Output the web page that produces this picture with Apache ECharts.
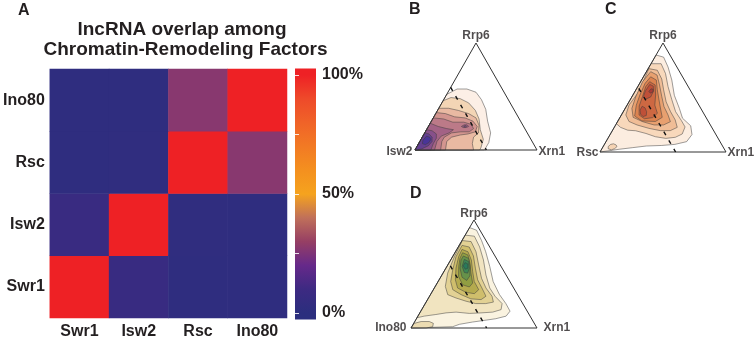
<!DOCTYPE html>
<html><head><meta charset="utf-8">
<script src="https://cdn.jsdelivr.net/npm/echarts@6/dist/echarts.min.js"></script>
<style>html,body{margin:0;padding:0;background:#fff}#c{width:754px;height:340px}</style>
</head><body><div id="c"></div>
<script>
// ---------- Panel A data (percent overlap) ----------
const factors = ['Swr1', 'Isw2', 'Rsc', 'Ino80'];
const overlapSwr1 = [100, 7, 2, 2];
const overlapIsw2 = [8, 100, 3, 2];
const overlapRsc = [2, 3, 100, 27];
const overlapIno80 = [2, 2, 27, 100];
const colorTicks = [0, 25, 50, 75, 100];
const colorLabels = [0, 50, 100];
const barLow = -2.7, barHigh = 102.7;

// ---------- Ternary panels: vertex names ----------
const vertexB = ['Rrp6', 'Isw2', 'Xrn1'];
const vertexC = ['Rrp6', 'Rsc', 'Xrn1'];
const vertexD = ['Rrp6', 'Ino80', 'Xrn1'];
// compositions [Rrp6 %, Xrn1 %] (factor % = remainder)
const apexComp = [100, 0], leftComp = [0, 0], rightComp = [0, 100];

// density contours, outer -> inner, points as [Rrp6 %, Xrn1 %]
const contoursB = [
  [[52,0],[57,6],[57,14],[54,23],[47,31],[38,39],[27,46],[16,54],[7,57],[0,57],[0,0]],
  [[46,0],[49,5],[48,13],[44,22],[37,31],[29,38],[19,44],[10,51],[2,53],[0,53],[0,0]],
  [[39,0],[39,8],[37,17],[34,27],[30,35],[23,41],[16,44],[12,42],[6,44],[0,48],[0,0]],
  [[35,0],[34,8],[31,17],[30,26],[27,34],[22,40],[17,41],[15,36],[14,30],[12,24],[8,22],[0,25],[0,0]],
  [[30,0],[29,9],[26,18],[26,27],[24,34],[20,38],[17,36],[17,29],[16,22],[12,18],[8,18],[0,21],[0,0]],
  [[25,0],[22,8],[20,16],[19,22],[16,20],[13,15],[8,14],[0,16],[0,0]],
  [[19,0],[18,5],[15,10],[11,12],[6,12],[0,13],[0,0]],
  [[16,0],[15,4],[12,8],[8,10],[4,9],[1,5],[0,1],[0,0]],
  [[13,3],[12,6],[10,8],[7,8],[5,6],[6,3],[9,2]],
  [[22,27],[23.5,28.5],[23.5,31],[22,33],[21,31.5],[21,29]],
  [[22.5,29],[22.8,30.3],[22,31.2],[21.3,30.5],[21.5,29.3]]
];
const contoursC = [
  [[89,0],[87,7],[78,15],[66,24],[52,33],[40,43],[31,50],[24,60],[16,65],[9.5,64],[7,56],[6,46],[5.5,34],[4,24],[2.5,14],[0,0]],
  [[5,4],[7,5],[7.5,7],[6.5,9.5],[5,11],[3,10],[2,8],[3,5]],
  [[81,0],[81,8],[72,16],[60,24],[48,33],[37,41.5],[29,50],[23,56],[16.5,57],[13.5,53],[12.5,46],[14,37],[17,28],[19.5,18.5],[20,12],[22.6,5],[26,0]],
  [[76.5,0.5],[75,8],[67,15.5],[57,22],[46,29.5],[37,37.5],[29.4,45],[22.6,50],[19.6,46],[19.6,38],[21.7,28],[24.8,17],[28,9],[34,3.5],[43,1.5],[54,3],[69,1.5]],
  [[73.7,3.4],[70.6,10],[61.5,16.5],[51,23.5],[41.6,30],[34,37],[27.8,42],[24.8,38],[24.8,30.5],[27.8,20],[31.8,10.4],[40,5.3],[50.8,3],[64.5,1.5]],
  [[69,5.7],[66,11.7],[57,17],[47.7,23],[38.5,29],[31.8,33.5],[28,30],[28.5,19],[33,11],[43,7.3],[52.3,5.5],[63,4.3]],
  [[64.5,7.2],[61.5,13],[52.3,18],[43,22],[35.5,27.8],[31.5,26],[30.5,20],[34,14],[42.2,10],[50.8,8.3],[60,6.3]],
  [[62,8.5],[60.5,12],[56,14.5],[50.5,15],[48.5,12],[51,9],[56,8]],
  [[42,12.5],[40.5,15.5],[37,18.5],[33.5,20],[32.5,18],[34.5,15],[38.5,12.5]],
  [[58,11.5],[57.5,13.5],[55,14.5],[54,13],[55.5,11]]
];
const contoursD = [
  [[93,0],[90.5,6.8],[81,15.5],[70.6,24],[57,34],[43,43.7],[31,54.7],[22.6,64],[15.6,70.8],[11,70],[8.6,63],[7.3,56],[5.5,46],[3.4,36.7],[1.2,32.5],[0,0]],
  [[0,0],[4.3,0.5],[6,5],[6,11.5],[4.3,15.6],[1.2,16.6],[0,12]],
  [[86,0],[85,7.8],[75,17],[63,26],[49,35],[37,44],[29.4,52],[22.6,61],[17,63],[14.7,57.5],[14,48.6],[13.5,39.6],[14.7,28.4],[14,20.8],[12.5,13.5],[11,5],[9.5,0]],
  [[81,0.3],[80,7.7],[70.6,16.3],[58.4,24.5],[46,33],[37,41],[29.4,49.6],[24,53.4],[22.6,48],[22.6,40],[24.8,31.3],[27.8,21.8],[30.9,13.7],[38.5,8],[50.8,3.7],[66,1.4]],
  [[76.5,2.3],[75,8.7],[66.7,16.2],[55.4,23.4],[44.6,30.6],[37,37.8],[29.4,44.8],[26.3,42.5],[27,34],[30.9,24.3],[35.5,15.4],[43,10],[53.8,6.2],[66,2.7]],
  [[72.8,4.1],[70.6,9.9],[63,16.4],[52.3,22.8],[43,28.7],[35.5,36],[31.8,34.4],[33,27.2],[37,18.5],[44.6,12.9],[55.4,8],[66,4.8]],
  [[69.7,6.1],[67.6,11.4],[60,16.8],[50.8,22.2],[41.6,28.1],[38,27.3],[40,21],[47.7,13.9],[57,9.4],[64.5,6.6]],
  [[66.7,8.2],[64.5,13.5],[57,18.4],[48.3,22.6],[44,22.2],[47,17],[55.4,11.2],[63,8.2]],
  [[63.6,10.5],[61.5,15],[55.4,18.6],[50.8,19.6],[51.4,16.6],[57,12.1]],
  [[60.6,12.6],[59.3,15.5],[55.4,17.5],[54.4,15.9],[57.5,12.7]]
];
// dashed reference line (constant factor share), [Rrp6 %, Xrn1 %] end points
const dashB = [[58.5, 0], [0, 58.5]];
const dashC = [[58.4, 1.6], [0, 60]];
const dashD = [[57.5, 2.5], [0, 60]];

// ---------- styles ----------
const scaleColors = ['#2b2e7e','#3d2a82','#66298a','#963f64','#c0705a','#f5a31e','#f4901f','#f27a24','#f06328','#ee4a2a','#ee2125'];
const fillsB = ['#fcefe6','#f3d5b5','#e9b9a2','#d3958f','#bc7a88','#a36285','#87508a','#643f90','#4a3598','#a36285','#87508a'];
const fillsC = ['#fcede0','#f6d4b4','#f8d8bb','#f0bd96','#e8a06f','#dc8350','#cd6842','#bf5038','#bf5038','#a83b36'];
const fillsD = ['#faf3e0','#ecdcb2','#f1e4c0','#e2d194','#cfbe6c','#b4aa4e','#909e42','#66924a','#3d8654','#2a7a5a'];
const FONT = '"Liberation Sans", Arial, Helvetica, sans-serif';
const INK = '#231f20';

// ---------- build ----------
const rows = [overlapSwr1, overlapIsw2, overlapRsc, overlapIno80];
const heatData = [];
rows.forEach((row, j) => row.forEach((v, i) => heatData.push([i, j, v])));

function toXY(c) {
  let t = Math.max(0, c[0]), r = Math.max(0, c[1]);
  if (t + r > 100) { const s = 100 / (t + r); t *= s; r *= s; }
  return [r + t / 2, t];
}

const stops = [{offset: 0, color: scaleColors[0]}];
scaleColors.forEach((col, i) => {
  const v = i * 100 / (scaleColors.length - 1);
  stops.push({offset: (v - barLow) / (barHigh - barLow), color: col});
});
stops.push({offset: 1, color: scaleColors[scaleColors.length - 1]});

const ternGrids = [
  {left: 415, top: 43, width: 122, height: 107},
  {left: 600, top: 43, width: 126, height: 109},
  {left: 411, top: 220, width: 126, height: 108}
];
const panels = [
  {polys: contoursB, fills: fillsB, dash: dashB, names: vertexB,
   lab: [{position: 'top', distance: 1}, {position: 'left', distance: 2, offset: [0, 1.5]}, {position: 'right', distance: 1, offset: [0, 1.5]}]},
  {polys: contoursC, fills: fillsC, dash: dashC, names: vertexC,
   lab: [{position: 'top', distance: 1}, {position: 'left', distance: 1, offset: [0, 0.5]}, {position: 'right', distance: 1, offset: [0, 0.5]}]},
  {polys: contoursD, fills: fillsD, dash: dashD, names: vertexD,
   lab: [{position: 'top', distance: 0}, {position: 'left', distance: 4, offset: [0, 0]}, {position: 'right', distance: 6, offset: [0, 0]}]}
];

const grid = [
  {left: 49, top: 69, width: 238, height: 250},
  {left: 295, top: 75, width: 21, height: 238}
].concat(ternGrids);

const xAxis = [
  {type: 'category', gridIndex: 0, data: factors, axisLine: {show: false}, axisTick: {show: false},
   axisLabel: {margin: 6, fontSize: 16, fontWeight: 'bold', fontFamily: FONT, color: INK}},
  {type: 'value', gridIndex: 1, min: 0, max: 1, show: false}
];
const yAxis = [
  {type: 'category', gridIndex: 0, data: factors, axisLine: {show: false}, axisTick: {show: false},
   axisLabel: {margin: 5, fontSize: 16, fontWeight: 'bold', fontFamily: FONT, color: INK, padding: [6, 0, 0, 0]}},
  {type: 'value', gridIndex: 1, position: 'right', min: 0, max: 100, interval: 25, z: 10,
   axisLine: {show: false}, splitLine: {show: false},
   axisTick: {show: true, inside: true, length: 4, lineStyle: {color: 'rgba(255,255,255,0.85)', width: 1}},
   axisLabel: {margin: 6, fontSize: 16, fontWeight: 'bold', fontFamily: FONT, color: INK,
     formatter: v => colorLabels.indexOf(v) >= 0 ? v + '%' : ''}},
  {type: 'value', gridIndex: 1, position: 'left', min: 0, max: 100, interval: 25, z: 10,
   axisLine: {show: false}, splitLine: {show: false}, axisLabel: {show: false},
   axisTick: {show: true, inside: true, length: 4, lineStyle: {color: 'rgba(255,255,255,0.85)', width: 1}}}
];
ternGrids.forEach((g, k) => {
  xAxis.push({type: 'value', gridIndex: 2 + k, min: 0, max: 100, show: false});
  yAxis.push({type: 'value', gridIndex: 2 + k, min: 0, max: 100, show: false});
});

const series = [
  {type: 'heatmap', xAxisIndex: 0, yAxisIndex: 0, data: heatData, itemStyle: {borderWidth: 0}, silent: true},
  {type: 'custom', xAxisIndex: 1, yAxisIndex: 1, data: [[0, 0]], silent: true, z: 2,
   renderItem(params, api) {
     const p1 = api.coord([0, barHigh]);
     const p2 = api.coord([1, barLow]);
     return {type: 'rect', shape: {x: p1[0], y: p1[1], width: p2[0] - p1[0], height: p2[1] - p1[1]},
       style: {fill: new echarts.graphic.LinearGradient(0, 1, 0, 0, stops)}};
   }}
];

panels.forEach((P, k) => {
  const xi = 2 + k, yi = 3 + k;
  series.push({
    type: 'custom', xAxisIndex: xi, yAxisIndex: yi, silent: true, z: 2,
    data: P.polys.map((p, i) => [i, 0]),
    renderItem(params, api) {
      const i = api.value(0);
      const pts = P.polys[i].map(c => api.coord(toXY(c)));
      return {type: 'polygon', shape: {points: pts},
        style: {fill: P.fills[i], stroke: '#3c3c3c', lineWidth: 0.5}};
    }
  });
  series.push({
    type: 'custom', xAxisIndex: xi, yAxisIndex: yi, silent: true, z: 3, data: [[0, 0]],
    renderItem(params, api) {
      const pts = [apexComp, leftComp, rightComp, apexComp].map(c => api.coord(toXY(c)));
      return {type: 'polyline', shape: {points: pts}, style: {fill: null, stroke: '#333', lineWidth: 1}};
    }
  });
  series.push({
    type: 'custom', xAxisIndex: xi, yAxisIndex: yi, silent: true, z: 4, data: [[0, 0]],
    renderItem(params, api) {
      const pts = P.dash.map(c => api.coord(toXY(c)));
      return {type: 'polyline', shape: {points: pts},
        style: {fill: null, stroke: '#111', lineWidth: 1.4, lineDash: [4, 6]}};
    }
  });
  series.push({
    type: 'scatter', xAxisIndex: xi, yAxisIndex: yi, silent: true, z: 5, symbolSize: 1,
    itemStyle: {color: 'rgba(0,0,0,0)'},
    label: {show: true, formatter: '{b}', fontSize: 12, fontWeight: 'bold', fontFamily: FONT, color: INK},
    data: [apexComp, leftComp, rightComp].map((c, i) => ({
      name: P.names[i], value: toXY(c), label: P.lab[i]
    }))
  });
});

const txt = (s, x, y, size, align) => ({
  type: 'text', x: x, y: y, silent: true,
  style: {text: s, fontSize: size, fontWeight: 'bold', fontFamily: FONT, fill: INK,
    align: align || 'left', verticalAlign: 'middle'}
});

const option = {
  animation: false,
  backgroundColor: '#fff',
  grid: grid, xAxis: xAxis, yAxis: yAxis,
  visualMap: {show: false, type: 'continuous', min: 0, max: 100, seriesIndex: 0,
    inRange: {color: scaleColors}},
  graphic: [
    txt('lncRNA overlap among', 182, 29.6, 19, 'center'),
    txt('Chromatin-Remodeling Factors', 185.5, 49.6, 19, 'center'),
    txt('A', 18, 10.5, 16),
    txt('B', 409, 10, 16),
    txt('C', 605, 10, 16),
    txt('D', 410, 193.5, 16)
  ],
  series: series
};

const chart = echarts.init(document.getElementById('c'), null, {renderer: 'canvas'});
chart.setOption(option);
</script>
</body></html>
